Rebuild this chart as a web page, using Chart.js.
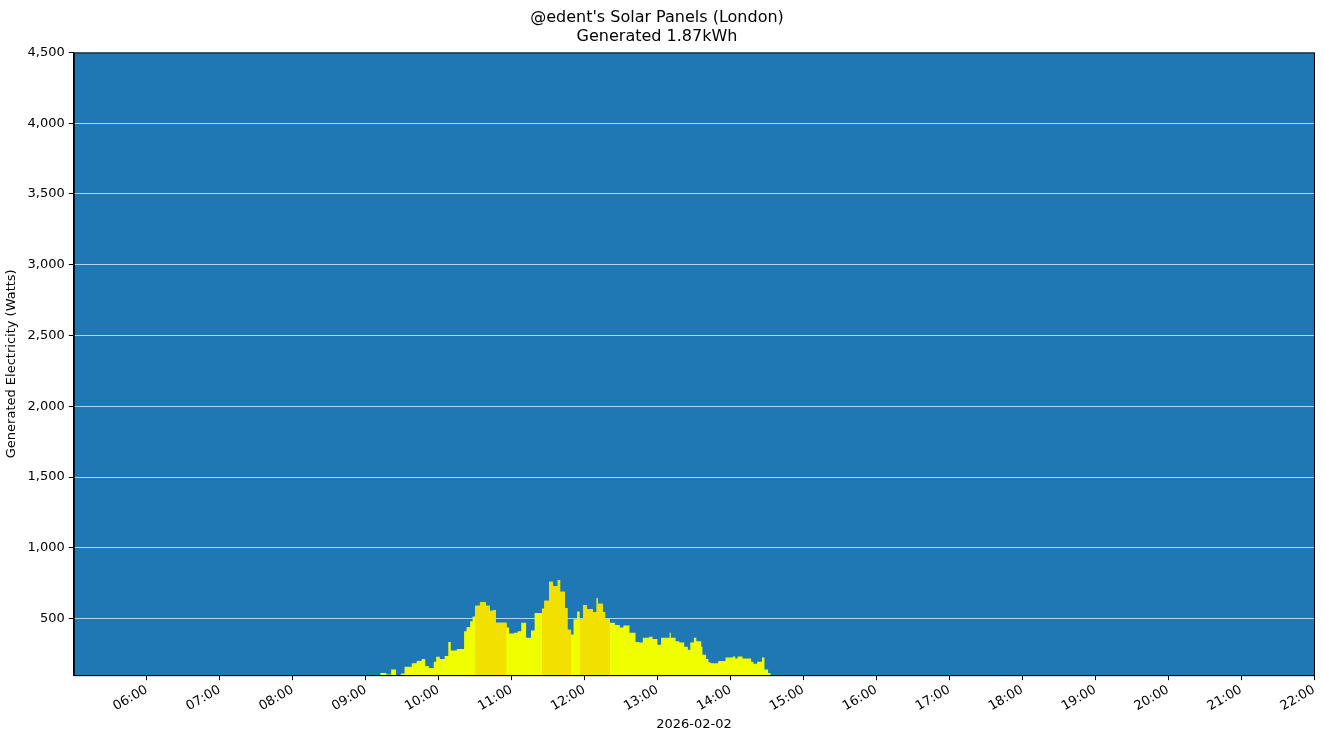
<!DOCTYPE html>
<html>
<head>
<meta charset="utf-8">
<script src="https://cdn.jsdelivr.net/npm/chart.js@4/dist/chart.umd.min.js"></script>
<style>
  html, body { margin: 0; padding: 0; background: #fff; }
  #wrap { width: 1324px; height: 736px; }
</style>
</head>
<body>
<div id="wrap"><canvas id="myChart"></canvas></div>
<script>
// readings (HH:MM start of each step) and watts
let times = ["09:12","09:17","09:21","09:25","09:29","09:32","09:38","09:42","09:46","09:49","09:52","09:56","09:58",
  "10:01","10:05","10:08","10:10","10:15","10:21","10:23","10:26","10:28","10:30","10:34","10:39","10:42","10:45","10:47",
  "10:56","10:58","11:02","11:05","11:08","11:12","11:16","11:19","11:25","11:27","11:31","11:34","11:38","11:40","11:44","11:46",
  "11:49","11:51","11:54","11:56","11:59","12:02","12:07","12:10","12:11","12:15","12:17","12:21","12:25","12:29","12:32","12:37",
  "12:42","12:45","12:48","12:53","12:56","13:00","13:03","13:10","13:11","13:15","13:18","13:22","13:25","13:27","13:30","13:32",
  "13:36","13:37","13:40","13:42","13:44","13:50","13:56","14:02","14:04","14:06","14:10","14:17","14:19","14:22","14:26","14:28",
  "14:31","14:33","14:35"];
let watts = [135,115,105,140,100,112,160,185,200,215,165,150,195,
  230,215,235,335,275,285,410,440,480,515,590,615,590,555,560,
  471,437,395,400,410,471,365,415,540,570,625,760,730,770,690,575,
  420,387,495,550,495,595,565,545,645,605,545,495,471,455,437,450,
  400,335,330,365,372,355,315,365,400,365,340,330,300,280,330,365,
  340,300,245,215,190,185,200,225,232,218,232,218,195,180,195,225,
  140,115,100];
let darkRanges = [["10:30","10:56"],["11:25","11:49"],["11:56","11:59"],["12:02","12:21"]];
let yTicks = [500,1000,1500,2000,2500,3000,3500,4000,4500];

function toMin(s) { let p = s.split(":"); return +p[0] * 60 + +p[1]; }
function fmt(m) { let h = Math.floor(m / 60); return (h < 10 ? "0" : "") + h + ":00"; }

let pts = times.map((t, i) => ({x: toMin(t), y: watts[i]}));
let darkPts = pts.map(p => {
  let inDark = darkRanges.some(r => p.x >= toMin(r[0]) && p.x <= toMin(r[1]));
  return {x: p.x, y: inDark ? p.y : null};
});

const bgPlugin = {
  id: "bg",
  beforeDraw(chart) {
    const a = chart.chartArea, c = chart.ctx;
    c.save(); c.fillStyle = "#1f77b4";
    c.fillRect(a.left, a.top, a.right - a.left, a.bottom - a.top);
    c.restore();
  },
  afterDraw(chart) {
    const a = chart.chartArea, c = chart.ctx;
    c.save(); c.strokeStyle = "#000"; c.lineWidth = 1;
    c.strokeRect(a.left + 0.5, a.top + 0.5, a.right - a.left, a.bottom - a.top);
    c.restore();
  }
};

Chart.defaults.font.family = "'DejaVu Sans', sans-serif";
Chart.defaults.color = "#000";

new Chart("myChart", {
  type: "line",
  data: {
    datasets: [{
      data: darkPts,
      stepped: "after",
      fill: "origin",
      backgroundColor: "#f2e000",
      borderWidth: 0,
      pointRadius: 0,
      spanGaps: false
    }, {
      data: pts,
      stepped: "after",
      fill: "origin",
      backgroundColor: "#f0ff00",
      borderWidth: 0,
      pointRadius: 0
    }]
  },
  options: {
    responsive: true,
    maintainAspectRatio: false,
    animation: false,
    layout: {padding: {left: 0, right: 10, top: 0, bottom: 0}},
    plugins: {
      legend: {display: false},
      tooltip: {enabled: false},
      title: {
        display: true,
        text: ["@edent's Solar Panels (London)", "Generated 1.87kWh"],
        font: {size: 16, weight: "normal", lineHeight: 1.2},
        padding: {top: 8, bottom: 6}
      }
    },
    scales: {
      x: {
        type: "linear",
        min: 300, max: 1320,
        afterBuildTicks(ax) {
          let t = [];
          for (let m = 360; m <= 1320; m += 60) t.push({value: m});
          ax.ticks = t;
        },
        ticks: {callback: v => fmt(v), minRotation: 30, maxRotation: 30, font: {size: 13}, padding: 2},
        grid: {display: true, drawOnChartArea: false, color: "#000", tickLength: 5},
        border: {color: "#000"},
        title: {display: true, text: "2026-02-02", font: {size: 13}, padding: {top: 0}}
      },
      y: {
        min: 100, max: 4500,
        afterBuildTicks(ax) { ax.ticks = yTicks.map(v => ({value: v})); },
        ticks: {font: {size: 13}, padding: 4},
        grid: {color: "rgba(200,230,255,0.85)", tickLength: 5, tickColor: "#000"},
        border: {color: "#000"},
        title: {display: true, text: "Generated Electricity (Watts)", font: {size: 13}, padding: {bottom: 4}}
      }
    }
  },
  plugins: [bgPlugin]
});
</script>
</body>
</html>
